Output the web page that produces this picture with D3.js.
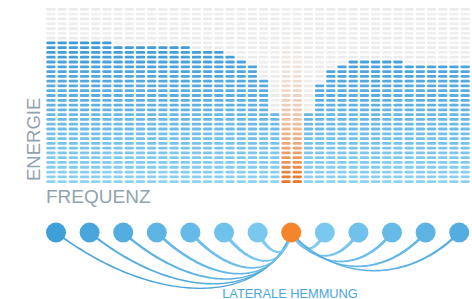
<!DOCTYPE html>
<html>
<head>
<meta charset="utf-8">
<script src="https://cdn.jsdelivr.net/npm/d3@7"></script>
<style>
  html, body { margin: 0; padding: 0; background: #fff; }
  svg { display: block; }
</style>
</head>
<body>
<svg id="chart" width="472" height="299"></svg>
<script>
// ---- data ----
const levelCount = 37;                       // energy levels (rows)
const bands = d3.range(38);                  // frequency bands (columns)
const energy = [30,30,30,30,30,30, 29,29,29,29,29,29,29, 28,28,28, 27, 26, 25, 22, 15,
                37, 37,
                15, 21, 24, 25, 26,26,26,26,26, 25,25,25,25,25,25];
const highlighted = [21, 22];                // excited frequency bands
const neurons = d3.range(13);                // receptor cells
const activeNeuron = 7;
const labelY = "ENERGIE";
const labelX = "FREQUENZ";
const labelInhibition = "LATERALE HEMMUNG";

// ---- drawing ----
const svg = d3.select("#chart");
const font = "'Liberation Sans', Arial, Helvetica, sans-serif";

const x = d3.scaleBand().domain(bands).range([46.3, 469.8]).paddingInner(0.17).paddingOuter(0);
const y = d3.scaleBand().domain(d3.range(levelCount)).range([8, 183]).paddingInner(0.42).paddingOuter(0);

const blueColor = d3.scaleLinear().domain([7, levelCount - 1]).range(["#3e9ad9", "#8dd2f4"]).clamp(true);
const orangeMix = d3.interpolateRgb("#efefef", "#e8772a");

const cells = [];
bands.forEach(b => {
  const top = levelCount - energy[b];
  d3.range(levelCount).forEach(r => {
    let fill;
    if (highlighted.includes(b)) {
      const t = Math.pow(r / (levelCount - 1), 2.2);
      fill = orangeMix(t);
    } else if (r >= top) {
      fill = blueColor(r);
    } else {
      fill = (r % 2 === 0) ? "#ebebec" : "#efeff0";
    }
    cells.push({b, r, fill});
  });
});

svg.append("g").selectAll("rect").data(cells).join("rect")
  .attr("x", d => x(d.b))
  .attr("y", d => y(d.r))
  .attr("width", x.bandwidth())
  .attr("height", y.bandwidth())
  .attr("rx", 1.2)
  .attr("fill", d => d.fill);

// axis labels
svg.append("text")
  .attr("transform", "translate(40,181) rotate(-90)")
  .attr("font-family", font).attr("font-size", 18.5)
  .attr("fill", "#92a3ae")
  .text(labelY);
svg.append("text")
  .attr("x", 46).attr("y", 202.5)
  .attr("font-family", font).attr("font-size", 19)
  .attr("fill", "#92a3ae")
  .text(labelX);

// neurons
const nx = d3.scaleLinear().domain([0, neurons.length - 1]).range([56, 459.2]);
const cy = 232.5, rad = 10;
const distColor = d3.scaleLinear().domain([1, 7]).range(["#7ac8ef", "#3f9fd9"]);

function bez(p0, p1, p2, p3, t) {
  const u = 1 - t;
  return [
    u*u*u*p0[0] + 3*u*u*t*p1[0] + 3*u*t*t*p2[0] + t*t*t*p3[0],
    u*u*u*p0[1] + 3*u*u*t*p1[1] + 3*u*t*t*p2[1] + t*t*t*p3[1]
  ];
}

const links = neurons.filter(n => n !== activeNeuron).map(n => ({n, dist: Math.abs(n - activeNeuron)}));
const linkG = svg.append("g");
links.forEach(l => {
  const xo = nx(l.n), xc = nx(activeNeuron);
  const dir = Math.sign(xc - xo);
  const d = Math.abs(xc - xo);
  const isLeft = dir > 0;
  const D = (isLeft ? 3.9 : 3.2) * Math.pow(d, 0.54);
  const a1 = isLeft ? 0.42 : 0.3, a2 = isLeft ? 0.12 : 0.28;
  const p0 = [xo, cy], p1 = [xo + dir * a1 * d, cy + D], p2 = [xc - dir * a2 * d, cy + D], p3 = [xc, cy];
  const w0 = 4.4 - 0.38 * l.dist, w1 = 1.1;
  const N = 80, left = [], right = [];
  for (let i = 0; i <= N; i++) {
    const t = i / N;
    const a = bez(p0, p1, p2, p3, Math.max(0, t - 0.001)), b = bez(p0, p1, p2, p3, Math.min(1, t + 0.001));
    let tx = b[0] - a[0], ty = b[1] - a[1];
    const len = Math.hypot(tx, ty) || 1; tx /= len; ty /= len;
    const p = bez(p0, p1, p2, p3, t);
    const w = w1 + (w0 - w1) * Math.pow(1 - t, 1.6);
    left.push([p[0] - ty * w / 2, p[1] + tx * w / 2]);
    right.push([p[0] + ty * w / 2, p[1] - tx * w / 2]);
  }
  linkG.append("path")
    .attr("d", d3.line()(left.concat(right.reverse())) + "Z")
    .attr("fill", distColor(l.dist))
    .attr("opacity", 0.95);
});

svg.append("g").selectAll("circle").data(neurons).join("circle")
  .attr("cx", d => nx(d))
  .attr("cy", cy)
  .attr("r", rad)
  .attr("fill", d => d === activeNeuron ? "#f5852a" : distColor(Math.abs(d - activeNeuron)));

svg.append("text")
  .attr("x", 290).attr("y", 297.5)
  .attr("text-anchor", "middle")
  .attr("font-family", font).attr("font-size", 12.8)
  .attr("fill", "#4aa8de")
  .text(labelInhibition);
</script>
</body>
</html>
